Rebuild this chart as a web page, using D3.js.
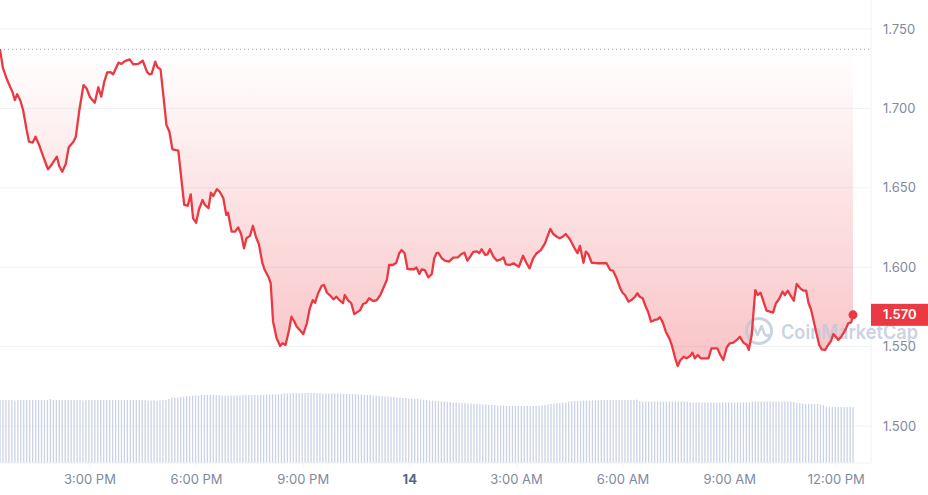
<!DOCTYPE html>
<html lang="en">
<head>
<meta charset="utf-8">
<title>Price chart</title>
<style>
  body { margin: 0; background: #fff; }
  #chart text { font-family: Inter, "Noto Sans", sans-serif; }
  .axis path { display: none; }
</style>
</head>
<body>
<div id="chart"></div>
<script src="https://d3js.org/d3.v7.min.js"></script>
<script>
  // minutes after the first sample (12:29 PM on the 13th)
  const priceMinutes = [0,5,11,17,21,25,29,34,39,45,49,55,60,66,73,81,88,96,100,105,111,116,124,128,134,141,146,152,160,166,171,176,181,186,191,200,205,211,219,225,233,241,248,252,
    256,262,266,271,276,281,286,291,301,307,311,317,322,326,331,336,342,346,352,356,360,366,371,377,382,385,391,397,402,407,412,416,422,427,432,437,443,447,453,457,461,467,473,477,482,488,492,497,
    501,506,512,518,523,528,532,537,543,547,552,558,563,568,574,579,582,588,593,598,602,608,613,618,623,630,636,642,647,653,657,663,669,674,678,683,688,693,699,703,708,712,717,723,729,733,737,
    740,746,751,758,765,773,779,784,789,793,799,805,809,813,819,823,827,833,839,846,850,854,861,867,871,876,883,889,894,900,906,913,920,929,934,940,945,950,955,962,970,975,979,
    985,989,993,999,1007,1016,1024,1030,1035,1041,1047,1051,1055,1061,1066,1072,1076,1080,1085,1089,1094,1099,1105,1110,1114,1119,1124,1130,1134,1140,1144,1148,1154,1159,1165,1169,1173,1178,1183,1190,1196,1201,1207,1211,1216,1221,1227,1232,
    1238,1244,1249,1255,1261,1264,1269,1275,1279,1284,1289,1294,1300,1305,1310,1315,1321,1325,1330,1335,1340,1345,1351,1356,1361,1365,1369,1373,1377,1383,1387,1393,1398,1403,1407,1411,1415,1421,1427,1432,1437,1440];

  const prices = [1.7372,1.7253,1.7190,1.7137,1.7105,1.7053,1.7089,1.7053,1.6990,1.6864,1.6790,1.6784,1.6822,1.6770,1.6696,1.6617,1.6650,1.6696,1.6637,1.6601,1.6650,1.6755,1.6790,1.6822,1.6990,1.7147,1.7127,1.7070,1.7036,1.7133,1.7074,1.7168,1.7227,1.7229,1.7215,1.7288,1.7280,1.7298,1.7309,1.7278,1.7280,1.7300,1.7231,1.7215,
    1.7217,1.7294,1.7259,1.7246,1.7074,1.6895,1.6853,1.6742,1.6734,1.6528,1.6392,1.6387,1.6459,1.6308,1.6280,1.6365,1.6423,1.6392,1.6371,1.6469,1.6448,1.6491,1.6475,1.6434,1.6329,1.6343,1.6224,1.6224,1.6251,1.6209,1.6119,1.6182,1.6197,1.6261,1.6192,1.6146,1.6025,1.5982,1.5940,1.5899,1.5657,1.5552,1.5504,1.5521,1.5510,1.5605,1.5688,1.5657,
    1.5625,1.5605,1.5579,1.5647,1.5741,1.5793,1.5776,1.5836,1.5882,1.5888,1.5839,1.5819,1.5798,1.5814,1.5789,1.5773,1.5825,1.5789,1.5773,1.5705,1.5714,1.5730,1.5768,1.5776,1.5804,1.5787,1.5793,1.5825,1.5867,1.5919,1.6014,1.6014,1.6028,1.6088,1.6108,1.6088,1.5989,1.5987,1.5987,1.5999,1.5957,1.5987,1.5982,1.5936,1.5957,1.6056,1.6088,
    1.6091,1.6056,1.6041,1.6035,1.6060,1.6062,1.6083,1.6091,1.6041,1.6062,1.6096,1.6100,1.6088,1.6113,1.6077,1.6081,1.6113,1.6066,1.6041,1.6050,1.6062,1.6018,1.6014,1.6025,1.6014,1.6003,1.6072,1.6025,1.5993,1.6056,1.6088,1.6108,1.6150,1.6241,1.6209,1.6192,1.6182,1.6192,1.6209,1.6176,1.6119,1.6088,1.6134,
    1.6028,1.6098,1.6083,1.6028,1.6025,1.6025,1.6025,1.5982,1.5978,1.5930,1.5867,1.5839,1.5825,1.5783,1.5793,1.5814,1.5836,1.5814,1.5804,1.5762,1.5720,1.5657,1.5668,1.5672,1.5685,1.5651,1.5594,1.5552,1.5510,1.5426,1.5378,1.5411,1.5436,1.5426,1.5441,1.5462,1.5426,1.5447,1.5426,1.5426,1.5426,1.5489,1.5489,1.5489,1.5447,1.5416,1.5496,1.5521,
    1.5525,1.5542,1.5562,1.5525,1.5510,1.5479,1.5573,1.5856,1.5825,1.5839,1.5783,1.5726,1.5720,1.5714,1.5773,1.5798,1.5846,1.5825,1.5852,1.5819,1.5789,1.5894,1.5867,1.5852,1.5852,1.5773,1.5735,1.5672,1.5605,1.5510,1.5483,1.5479,1.5510,1.5537,1.5579,1.5562,1.5542,1.5567,1.5605,1.5647,1.5653,1.5700];

  // one volume bar every 5 minutes
  const volumes = [
    63,63,63,63,63,62.5,63,63,63,63,63,63,63,63,63,63,63,64,63,63,63,63,63,63,
    63,63,63,63,62.5,63,63,63,63,63,63,63,63,63,63,63,63,63,63,63,63,63,63,63,
    63,63,62.5,62.5,62.5,62,62.5,63,63,64,65.5,65.5,65.5,66,66.5,67,67,67,67.5,67.5,68,68,68,68,
    68,68,68,67.5,67.5,67.5,67.5,67.5,67.5,67.5,68,68,68,68,68,68,68,68,68.5,68.5,68.5,68.5,68.5,69,
    69.5,69.5,69.5,70,70,70,70,70,70,70,70,70,70,69.5,69.5,69.5,69.5,69.5,69.5,69.5,69,69,69,69,
    69,68.5,68.5,68,68,68,67.5,67.5,67,67,66.5,66.5,66,66,65.5,65.5,65,65,64.5,64.5,64,64,63.5,63,
    63,62.5,62.5,62,62,61.5,61.5,61,61,60.5,60.5,60,60,60,59.5,59.5,59,59,59,58.5,58.5,58,58,58,
    57.5,57.5,57.5,57,57,57,57,57,57,57,57,57,57,57,57.5,57.5,58,58.5,59,59.5,60,60,60.5,60.5,
    61.5,61.5,62,62,62,62.5,62.5,62.5,62.5,62.5,62.5,63,63,63,63,63,63,63,63,63,63,63,63,63.5,
    62,61.5,61.5,61.5,61.5,61.5,61.5,61.5,61.5,61.5,61.5,61.5,61.5,61.5,61.5,61.5,61.5,61,60.5,60.5,60.5,60.5,60.5,60.5,
    60.5,60.5,60.5,60.5,60.5,60.5,60.5,60.5,60.5,60.5,60.5,60.5,60.5,60.5,61.5,61.5,61.5,61.5,61.5,61.5,61.5,61.5,61.5,61.5,
    61.5,61.5,61.5,61.5,61,60,60,59.5,59,59,59,59,59,58.5,58,56,56,56,56,56,56,56,56,56,
    56];

  const yTicks = [1.5, 1.55, 1.6, 1.65, 1.7, 1.75];
  const xTickHours = [15, 18, 21, 24, 27, 30, 33, 36];   // hours from midnight of the 13th
  const xTickLabels = ["3:00 PM", "6:00 PM", "9:00 PM", "14", "3:00 AM", "6:00 AM", "9:00 AM", "12:00 PM"];

  const width = 928, height = 495;
  const plotRight = 871, plotBottom = 463;
  const red = "#ea3943";

  const day0 = new Date(2024, 5, 13);
  const start = new Date(2024, 5, 13, 12, 29);
  const toDate = m => new Date(start.getTime() + m * 60000);

  const data = priceMinutes.map((m, i) => ({ t: toDate(m), p: prices[i] }));
  const openPrice = prices[0];
  const last = data[data.length - 1];

  const x = d3.scaleTime()
    .domain([start, toDate(1440)])
    .range([0, 853]);

  const y = d3.scaleLinear()
    .domain([1.5, 1.75])
    .range([426, 29]);

  const yVol = d3.scaleLinear()
    .domain([0, 70])
    .range([plotBottom, 393]);

  const svg = d3.select("#chart")
    .append("svg")
    .attr("width", width)
    .attr("height", height);

  const defs = svg.append("defs");
  const grad = defs.append("linearGradient")
    .attr("id", "areaGrad")
    .attr("gradientUnits", "userSpaceOnUse")
    .attr("x1", 0).attr("x2", 0)
    .attr("y1", y(openPrice)).attr("y2", y(d3.min(prices)));
  grad.append("stop").attr("offset", 0).attr("stop-color", red).attr("stop-opacity", 0);
  grad.append("stop").attr("offset", 1).attr("stop-color", red).attr("stop-opacity", 0.3);

  // grid
  svg.append("g")
    .selectAll("line")
    .data(yTicks)
    .join("line")
    .attr("x1", 0).attr("x2", plotRight)
    .attr("y1", d => y(d)).attr("y2", d => y(d))
    .attr("stroke", "#eff2f5");

  svg.append("line")
    .attr("x1", plotRight).attr("x2", plotRight)
    .attr("y1", 0).attr("y2", plotBottom)
    .attr("stroke", "#eff2f5");

  // volume bars
  svg.append("g")
    .selectAll("rect")
    .data(volumes)
    .join("rect")
    .attr("x", (d, i) => x(toDate(i * 5)) - 0.6)
    .attr("y", d => yVol(d))
    .attr("width", 1.3)
    .attr("height", d => plotBottom - yVol(d))
    .attr("fill", "#cad3e5");

  // area between price and open
  const area = d3.area()
    .x(d => x(d.t))
    .y0(y(openPrice))
    .y1(d => y(d.p));

  svg.append("path")
    .datum(data)
    .attr("d", area)
    .attr("fill", "url(#areaGrad)");

  // open price reference
  svg.append("line")
    .attr("x1", 0).attr("x2", plotRight)
    .attr("y1", y(openPrice)).attr("y2", y(openPrice))
    .attr("stroke", "#9aa1ad")
    .attr("stroke-width", 1)
    .attr("stroke-dasharray", "1,3");

  // watermark
  const wm = svg.append("g").attr("opacity", 0.8);
  wm.append("circle")
    .attr("cx", 759).attr("cy", 331).attr("r", 12.5)
    .attr("fill", "none").attr("stroke", "#bfc8db").attr("stroke-width", 3);
  wm.append("path")
    .attr("d", "M750,337 L753.5,326 L757.5,335 L761.5,326 L764,333 Q766,337 769,335")
    .attr("fill", "none").attr("stroke", "#bfc8db").attr("stroke-width", 2.6)
    .attr("stroke-linejoin", "round").attr("stroke-linecap", "round");
  wm.append("text")
    .attr("x", 781).attr("y", 339)
    .attr("font-size", 20).attr("font-weight", 600)
    .attr("fill", "#bfc8db")
    .attr("textLength", 137).attr("lengthAdjust", "spacingAndGlyphs")
    .text("CoinMarketCap");

  // price line
  const line = d3.line()
    .x(d => x(d.t))
    .y(d => y(d.p));

  svg.append("path")
    .datum(data)
    .attr("d", line)
    .attr("fill", "none")
    .attr("stroke", red)
    .attr("stroke-width", 2.3)
    .attr("stroke-linejoin", "round");

  svg.append("circle")
    .attr("cx", x(last.t)).attr("cy", y(last.p)).attr("r", 4.5)
    .attr("fill", red);

  // y axis
  const yAxis = svg.append("g")
    .attr("class", "axis")
    .attr("transform", `translate(${plotRight},0)`)
    .call(d3.axisRight(y).tickValues(yTicks).tickFormat(d3.format(".3f")).tickSize(0).tickPadding(12));
  yAxis.selectAll("text")
    .attr("font-size", 13)
    .attr("fill", "#808a9d");

  // current price tag
  svg.append("rect")
    .attr("x", plotRight).attr("y", y(last.p) - 11)
    .attr("width", width - plotRight).attr("height", 22)
    .attr("fill", red);
  svg.append("text")
    .attr("x", plotRight + 12).attr("y", y(last.p))
    .attr("dy", "0.35em")
    .attr("font-size", 13).attr("font-weight", 600)
    .attr("fill", "#fff")
    .text(d3.format(".3f")(last.p));

  // x axis
  svg.append("line")
    .attr("x1", 0).attr("x2", plotRight)
    .attr("y1", plotBottom).attr("y2", plotBottom)
    .attr("stroke", "#eff2f5");

  const xTickDates = xTickHours.map(h => new Date(day0.getTime() + h * 3600000));
  const xAxis = svg.append("g")
    .attr("class", "axis")
    .attr("transform", `translate(0,${plotBottom})`)
    .call(d3.axisBottom(x).tickValues(xTickDates)
      .tickFormat((d, i) => xTickLabels[i]).tickSize(4).tickPadding(8));
  xAxis.selectAll(".tick line").attr("stroke", "#eff2f5");
  xAxis.selectAll("text")
    .attr("font-size", 13)
    .attr("fill", (d, i) => xTickLabels[i] === "14" ? "#58667e" : "#808a9d")
    .attr("font-weight", (d, i) => xTickLabels[i] === "14" ? 700 : 400);
</script>
</body>
</html>
